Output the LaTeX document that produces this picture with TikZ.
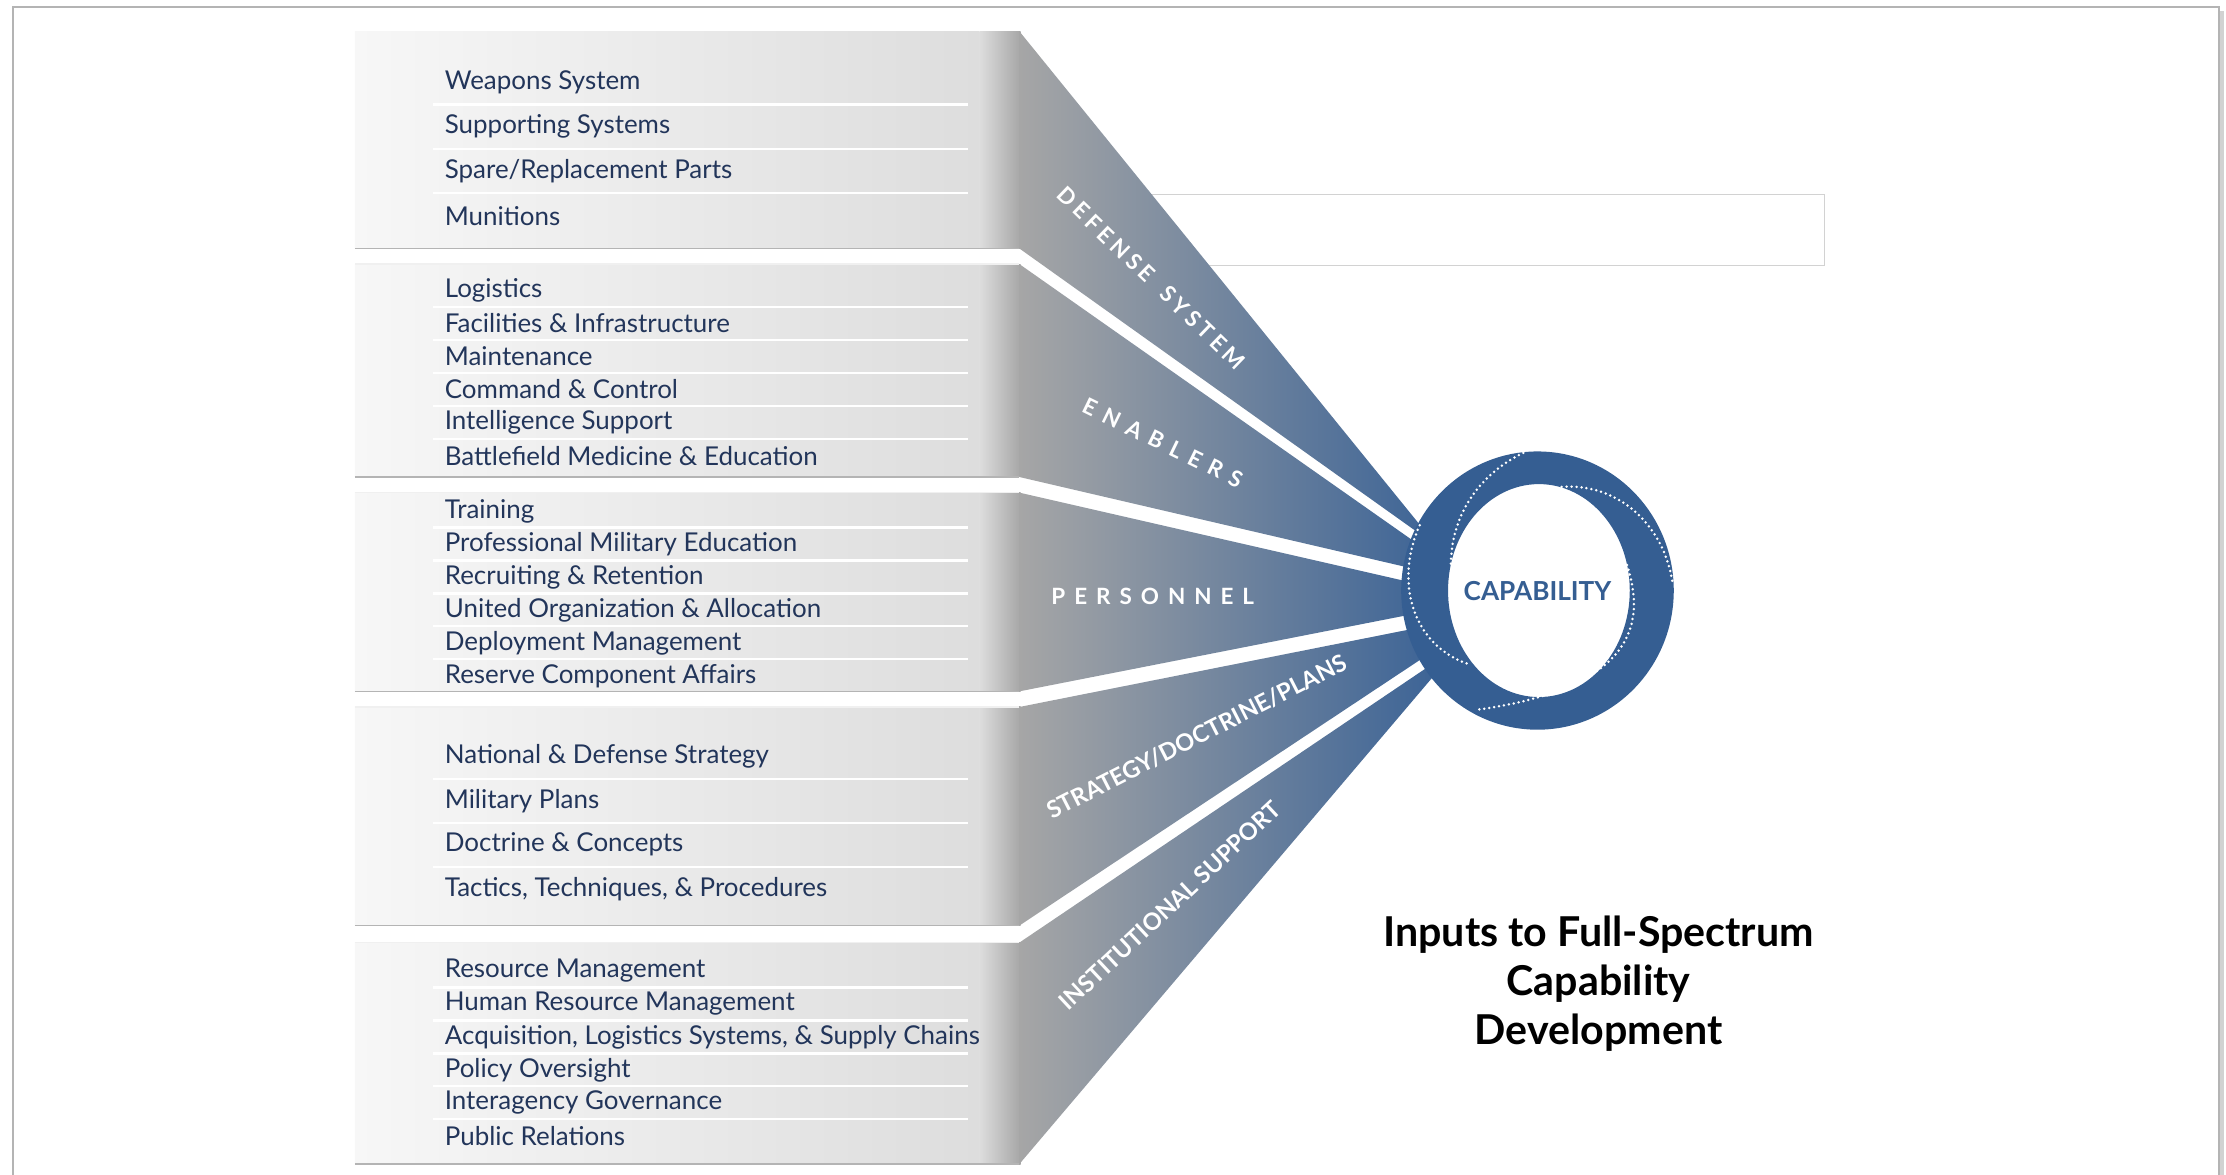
\documentclass[tikz,border=0pt]{standalone}
\usepackage{fontspec}
\setmainfont{Lato}
\newfontfamily\spacedfont[LetterSpace=40]{Lato}
\newfontfamily\spacedfontb[LetterSpace=20]{Lato}
\usetikzlibrary{positioning}

\definecolor{capblue}{HTML}{355E92}
\definecolor{rowtext}{HTML}{22355A}
\definecolor{bandgray}{HTML}{A6A6A6}
\definecolor{bandmid}{HTML}{8A93A3}
\definecolor{bandblue}{HTML}{3D6496}
\definecolor{panelleft}{HTML}{F7F7F7}
\definecolor{panelright}{HTML}{DDDDDD}
\definecolor{framegray}{HTML}{B4B4B4}

\begin{document}
\begin{tikzpicture}[
    x=0.02cm, y=-0.02cm, % one unit is one pixel of the sketch, y runs downwards
    rowtxt/.style={anchor=west, inner sep=0pt, text=rowtext, font=\fontsize{10.4}{12}\selectfont},
    sepline/.style={white, line width=0.9pt},
    gapline/.style={framegray, line width=0.6pt},
    bandlbl/.style={text=white, inner sep=0pt, font=\spacedfont\bfseries\fontsize{9}{11}\selectfont},
    bandlblb/.style={text=white, inner sep=0pt, font=\bfseries\fontsize{9.5}{11}\selectfont},
    ringdots/.style={white, line width=1.1pt, line cap=round, dash pattern=on 0pt off 2pt},
    captxt/.style={text=capblue, inner sep=0pt, font=\bfseries\fontsize{10.5}{12}\selectfont}
]
    \useasboundingbox (0,0) rectangle (1568,827);

    % 1. Page frame and the empty box behind the fan
    \draw[framegray, line width=0.8pt] (9,840) -- (9,5) -- (1563,5) -- (1563,840);
    \draw[gray!35, line width=1.6pt] (1565.5,8) -- (1565.5,840);
    \draw[gray!35, line width=0.6pt] (790,137) rectangle (1285,187);

    % 2. The five panels on the left
    \foreach \ya/\yb in {22/175, 186/336, 347/487, 498/652, 664/820} {
        \shade[left color=panelleft, right color=panelright] (250,\ya) rectangle (690,\yb);
        \shade[left color=panelright, right color=bandgray] (690,\ya) rectangle (719,\yb);
        \draw[gapline] (250,\yb) -- (718,\yb);
    }
    \foreach \ya in {186, 347, 498, 664}
        \draw[gray!12, line width=0.6pt] (250,\ya) -- (718,\ya);

    % 3. The bands running into the ring
    \shade[left color=bandgray, middle color=bandmid, right color=bandblue]
        (718,22)  -- (1002,372) -- (1000,376) -- (718,175) -- cycle
        (718,186) -- (997,382)  -- (993,400)  -- (718,336) -- cycle
        (718,347) -- (993,410)  -- (993,433)  -- (718,487) -- cycle
        (718,498) -- (995,443)  -- (1003,463) -- (718,652) -- cycle
        (718,664) -- (1007,469) -- (1010,476) -- (718,820) -- cycle;

    % 4. Rows of each panel
    \foreach \txt [count=\i] in {Weapons System, Supporting Systems,
            Spare/Replacement Parts, Munitions}
        \node[rowtxt] (def\i) at (313,{58+(\i-1)*31.3}) {\txt};
    \foreach \y in {73.6, 104.9, 136.2}
        \draw[sepline] (305,\y) -- (682,\y);

    \foreach \txt [count=\i] in {Logistics, Facilities \& Infrastructure, Maintenance,
            Command \& Control, Intelligence Support, Battlefield Medicine \& Education}
        \node[rowtxt] (ena\i) at (313,{204.5+(\i-1)*23.3}) {\txt};
    \foreach \y in {216.1, 239.4, 262.7, 286, 309.3}
        \draw[sepline] (305,\y) -- (682,\y);

    \foreach \txt [count=\i] in {Training, Professional Military Education,
            Recruiting \& Retention, United Organization \& Allocation,
            Deployment Management, Reserve Component Affairs}
        \node[rowtxt] (per\i) at (313,{360+(\i-1)*23.2}) {\txt};
    \foreach \y in {371.6, 394.8, 418, 441.2, 464.4}
        \draw[sepline] (305,\y) -- (682,\y);

    \foreach \txt [count=\i] in {National \& Defense Strategy, Military Plans,
            Doctrine \& Concepts, {Tactics, Techniques, \& Procedures}}
        \node[rowtxt] (str\i) at (313,{533+(\i-1)*31}) {\txt};
    \foreach \y in {548.5, 579.5, 610.5}
        \draw[sepline] (305,\y) -- (682,\y);

    \foreach \txt [count=\i] in {Resource Management, Human Resource Management,
            {Acquisition, Logistics Systems, \& Supply Chains}, Policy Oversight,
            Interagency Governance, Public Relations}
        \node[rowtxt] (ins\i) at (313,{684+(\i-1)*23.2}) {\txt};
    \foreach \y in {695.6, 718.8, 742, 765.2, 788.4}
        \draw[sepline] (305,\y) -- (682,\y);

    % 5. Band labels
    \node[bandlbl, font=\spacedfontb\bfseries\fontsize{9}{11}\selectfont, rotate=-44]
        (lbldef) at (811,196) {DEFENSE\hspace{7pt}SYSTEM};
    \node[bandlbl, rotate=-26] (lblena) at (819,312) {ENABLERS};
    \node[bandlbl] (lblper) at (812,420) {PERSONNEL};
    \node[bandlblb, rotate=27] (lblstr) at (843,519) {STRATEGY/DOCTRINE/PLANS};
    \node[bandlblb, rotate=43] (lblins) at (824,638) {INSTITUTIONAL SUPPORT};

    % 6. The capability ring
    \node[captxt] (cap) at (1083,416) {CAPABILITY};
    \fill[capblue, even odd rule]
        (cap.center) ellipse [x radius=96, y radius=98]
        (1084,416) ellipse [x radius=64, y radius=75];
    \draw[ringdots] (1073,319) .. controls (1040,335) and (1022,365) .. (1022,398);
    \draw[ringdots] (1000,370) .. controls (982,410) and (995,455) .. (1035,468);
    \draw[ringdots] (1100,343) .. controls (1140,340) and (1172,370) .. (1178,410);
    \draw[ringdots] (1146,398) .. controls (1160,440) and (1150,485) .. (1040,500);

    % 7. Title
    \node[align=center, inner sep=0pt, font=\bfseries\fontsize{16.5}{19.6}\selectfont]
        (title) at (1126,693) {Inputs to Full-Spectrum\\Capability\\Development};
\end{tikzpicture}
\end{document}
